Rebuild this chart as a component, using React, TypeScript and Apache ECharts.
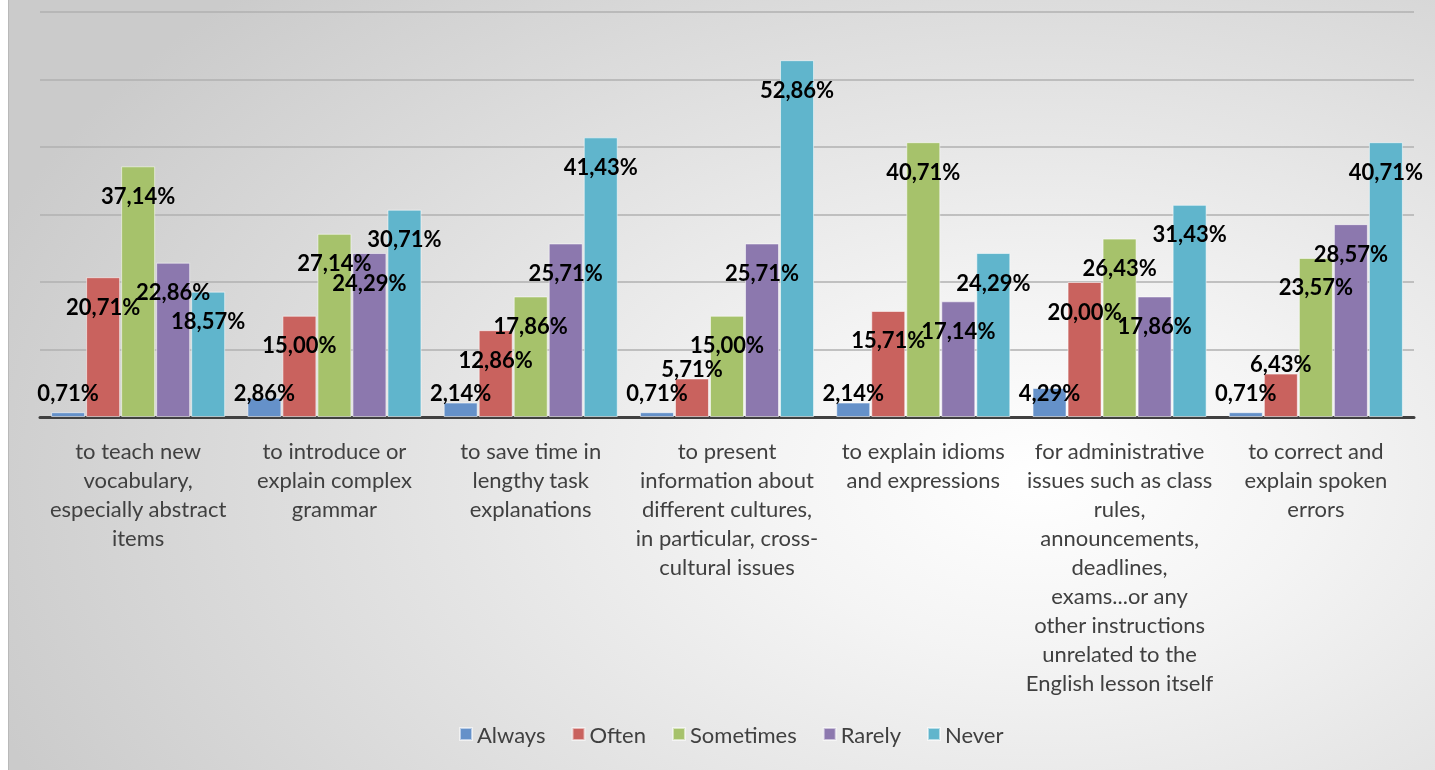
import React, { useEffect, useRef } from "react";
import * as echarts from "echarts";

const categories = [
  "to teach new\nvocabulary,\nespecially abstract\nitems",
  "to introduce or\nexplain complex\ngrammar",
  "to save time in\nlengthy task\nexplanations",
  "to present\ninformation about\ndifferent cultures,\nin particular, cross-\ncultural issues",
  "to explain idioms\nand expressions",
  "for administrative\nissues such as class\nrules,\nannouncements,\ndeadlines,\nexams...or any\nother instructions\nunrelated to the\nEnglish lesson itself",
  "to correct and\nexplain spoken\nerrors",
];

const seriesNames = ["Always", "Often", "Sometimes", "Rarely", "Never"];

const always = [0.71, 2.86, 2.14, 0.71, 2.14, 4.29, 0.71];
const often = [20.71, 15.0, 12.86, 5.71, 15.71, 20.0, 6.43];
const sometimes = [37.14, 27.14, 17.86, 15.0, 40.71, 26.43, 23.57];
const rarely = [22.86, 24.29, 25.71, 25.71, 17.14, 17.86, 28.57];
const never = [18.57, 30.71, 41.43, 52.86, 24.29, 31.43, 40.71];

const seriesValues = [always, often, sometimes, rarely, never];
const colors = ["#6591c9", "#c9625e", "#a6c26b", "#8c78ae", "#60b5cc"];

const fmt = (v: number) => v.toFixed(2).replace(".", ",") + "%";

function labelFor(v: number) {
  if (v < 5) return { position: "insideBottom", distance: 15 };
  if (v < 10) return { position: "top", distance: 0 };
  return { position: "insideTop", distance: 19 };
}

export default function App() {
  const ref = useRef<HTMLDivElement>(null);
  useEffect(() => {
    if (!ref.current) return;
    const chart = echarts.init(ref.current, undefined, { renderer: "svg" });
    const option = {
      animation: false,
      backgroundColor: "transparent",
      grid: { left: 31, right: 21, top: 12, bottom: 353, containLabel: false },
      legend: {
        bottom: 20,
        left: 445,
        itemWidth: 12,
        itemHeight: 12,
        itemGap: 26,
        icon: "rect",
        textStyle: { fontFamily: "Lato", fontSize: 22, color: "#404040" },
        data: seriesNames,
      },
      xAxis: {
        type: "category",
        data: categories,
        axisLine: { lineStyle: { color: "#404040", width: 3 } },
        axisTick: { show: false },
        axisLabel: {
          interval: 0,
          margin: 19,
          fontFamily: "Lato",
          fontSize: 22,
          lineHeight: 29,
          color: "#404040",
          align: "center",
        },
      },
      yAxis: {
        type: "value",
        min: 0,
        max: 60,
        interval: 10,
        axisLabel: { show: false },
        axisLine: { show: false },
        axisTick: { show: false },
        splitLine: { lineStyle: { color: "#b0b0b0", width: 1.5 } },
      },
      series: seriesValues.map((vals, si) => ({
        name: seriesNames[si],
        type: "bar",
        barWidth: 34,
        barGap: "3%",
        itemStyle: {
          color: colors[si],
          borderColor: "rgba(255,255,255,0.55)",
          borderWidth: 1,
        },
        label: {
          show: true,
          fontFamily: "Lato",
          fontWeight: "bold",
          fontSize: 22,
          lineHeight: 20,
          color: "#000000",
          formatter: (p: any) => fmt(p.value),
        },
        data: vals.map((v) => ({ value: v, label: labelFor(v) })),
      })),
    };
    chart.setOption(option as any);
    return () => chart.dispose();
  }, []);
  return (
    <div
      ref={ref}
      style={{
        position: "fixed",
        left: 8,
        top: 0,
        width: 1426,
        height: 770,
        borderLeft: "1px solid #b9b9b9",
        background:
          "radial-gradient(ellipse 78% 90% at 72% 62%, #ffffff 0%, #f4f4f4 25%, #cbcbcb 100%)",
      }}
    />
  );
}
